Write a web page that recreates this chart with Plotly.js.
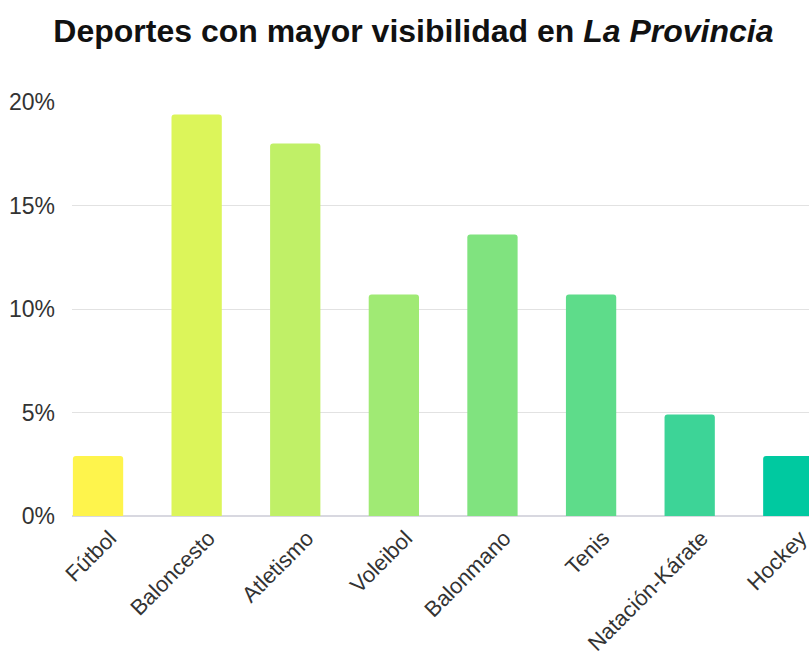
<!DOCTYPE html>
<html>
<head>
<meta charset="utf-8">
<script src="https://cdn.plot.ly/plotly-3.0.1.min.js"></script>
<style>html,body{margin:0;padding:0;background:#fff;}#chart{width:809px;height:652px;}</style>
</head>
<body>
<div id="chart"></div>
<script>
const categories = ["Fútbol", "Baloncesto", "Atletismo", "Voleibol", "Balonmano", "Tenis", "Natación-Kárate", "Hockey"];
const values = [2.9, 19.4, 18.0, 10.7, 13.6, 10.7, 4.9, 2.9];
const barColors = ["#fef44c", "#dcf55a", "#c0f067", "#a0ea74", "#80e37f", "#5edc8a", "#3dd497", "#00c9a0"];
const yTickVals = [0, 5, 10, 15, 20];
const yTickText = ["0%", "5%", "10%", "15%", "20%"];

const trace = {
  type: "bar",
  x: categories,
  y: values,
  marker: { color: barColors, cornerradius: 3, line: { width: 0 } },
  hoverinfo: "x+y"
};

const layout = {
  width: 809,
  height: 652,
  margin: { l: 72, r: 0, t: 102, b: 136 },
  paper_bgcolor: "#ffffff",
  plot_bgcolor: "#ffffff",
  bargap: 0.49,
  showlegend: false,
  font: { family: "Liberation Sans, Arial, sans-serif", color: "#333333" },
  title: {
    text: "<b>Deportes con mayor visibilidad en <i>La Provincia</i></b>",
    font: { family: "Liberation Sans, Arial, sans-serif", size: 32, color: "#111111" },
    x: 0.511, xanchor: "center",
    y: 0.952, yanchor: "middle", yref: "container"
  },
  xaxis: {
    type: "category",
    range: [-0.264, 7.21],
    tickangle: -45,
    tickfont: { size: 22, color: "#333333" },
    showgrid: false,
    showline: false,
    zeroline: false,
    ticks: "",
    ticklabelstandoff: 4,
    ticklabelshift: 12,
    fixedrange: true
  },
  yaxis: {
    range: [0, 20],
    tickvals: yTickVals,
    ticktext: yTickText,
    tickfont: { size: 23, color: "#333333" },
    showgrid: true,
    gridcolor: "#e2e2e2",
    gridwidth: 1,
    zeroline: true,
    zerolinecolor: "#d8d8e0",
    zerolinewidth: 1.5,
    showline: false,
    ticks: "",
    ticklabelstandoff: 16,
    fixedrange: true
  }
};

Plotly.newPlot("chart", [trace], layout, { displayModeBar: false, staticPlot: true });
</script>
</body>
</html>
